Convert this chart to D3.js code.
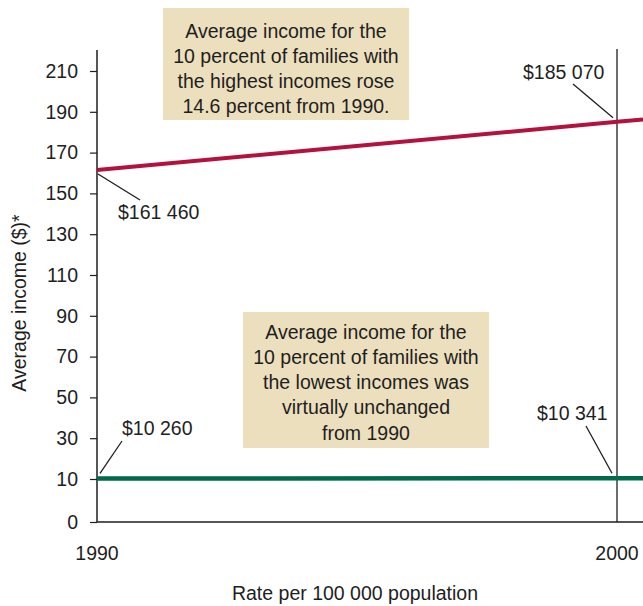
<!DOCTYPE html>
<html>
<head>
<meta charset="utf-8">
<script src="https://cdn.jsdelivr.net/npm/d3@7"></script>
<style>
  html, body { margin: 0; padding: 0; background: #fff; }
  svg { display: block; font-family: "Liberation Sans", Arial, Helvetica, sans-serif; }
</style>
</head>
<body>
<svg id="chart" width="643" height="606"></svg>
<script>
// Average family income (thousands of $), top and bottom deciles
const years = [1990, 2000];
const highest = [161.46, 185.07];
const lowest = [10.26, 10.341];
const yTicks = [0, 10, 30, 50, 70, 90, 110, 130, 150, 170, 190, 210];
const xTickLabels = ["1990", "2000"];
const highLabels = ["$161 460", "$185 070"];
const lowLabels = ["$10 260", "$10 341"];
const highNote = ["Average income for the", "10 percent of families with", "the highest incomes rose", "14.6 percent from 1990."];
const lowNote = ["Average income for the", "10 percent of families with", "the lowest incomes was", "virtually unchanged", "from 1990"];
const yTitle = "Average income ($)*";
const xTitle = "Rate per 100 000 population";

(function draw() {
  const plotLeft = 97, plotRight = 617, plotTop = 50, plotBottom = 522, plotEdge = 643;
  const ink = "#1e1e1e";
  const fs = 19.5;

  const svg = d3.select("#chart");

  const x = d3.scaleLinear().domain([1990, 2000]).range([plotLeft, plotRight]);
  // broken axis: the 0–10 segment is stretched, 10–210 is linear
  const y = d3.scaleLinear().domain([0, 10, 210]).range([plotBottom, 479, 71]);

  // annotation boxes (drawn under everything else)
  function noteBox(lines, bx, by, bw, bh, firstLine) {
    const g = svg.append("g");
    g.append("rect").attr("x", bx).attr("y", by).attr("width", bw).attr("height", bh)
      .attr("fill", "#ecdfbd");
    g.selectAll("text").data(lines).join("text")
      .attr("x", bx + bw / 2)
      .attr("y", (d, i) => firstLine + i * 25.2)
      .attr("dy", "0.35em")
      .attr("text-anchor", "middle")
      .attr("font-size", fs)
      .attr("fill", ink)
      .text(d => d);
  }
  noteBox(highNote, 163, 8, 246, 112, 31);
  noteBox(lowNote, 243, 312, 246, 136, 332);

  // y axis
  const yAxis = d3.axisLeft(y).tickValues(yTicks).tickSize(7).tickPadding(12).tickFormat(d3.format("d"));
  const gy = svg.append("g").attr("transform", `translate(${plotLeft},0)`).call(yAxis);
  gy.select(".domain").remove();
  gy.selectAll(".tick line").attr("stroke", ink).attr("stroke-width", 1.2);
  gy.selectAll(".tick text").attr("font-size", fs).attr("fill", ink)
    .attr("font-family", "'Liberation Sans', Arial, Helvetica, sans-serif");

  svg.append("line").attr("x1", plotLeft).attr("x2", plotLeft).attr("y1", plotTop).attr("y2", plotBottom)
    .attr("stroke", ink).attr("stroke-width", 1.5);
  // x baseline
  svg.append("line").attr("x1", plotLeft).attr("x2", plotEdge).attr("y1", plotBottom).attr("y2", plotBottom)
    .attr("stroke", ink).attr("stroke-width", 1.5);
  // 2000 marker line
  svg.append("line").attr("x1", x(2000)).attr("x2", x(2000)).attr("y1", plotTop - 1).attr("y2", plotBottom)
    .attr("stroke", ink).attr("stroke-width", 1.3);

  // x tick labels
  svg.selectAll(".xlab").data(years).join("text")
    .attr("class", "xlab")
    .attr("x", d => x(d))
    .attr("y", 560)
    .attr("text-anchor", "middle")
    .attr("font-size", fs)
    .attr("fill", ink)
    .text((d, i) => xTickLabels[i]);

  // series lines, continued to the right edge along the same trend
  const xEnd = x.invert(plotEdge);
  function extend(vals) {
    const slope = (vals[1] - vals[0]) / (years[1] - years[0]);
    return years.map((t, i) => [t, vals[i]]).concat([[xEnd, vals[1] + slope * (xEnd - years[1])]]);
  }
  const line = d3.line().x(d => x(d[0])).y(d => y(d[1]));
  svg.append("path").datum(extend(highest)).attr("d", line)
    .attr("fill", "none").attr("stroke", "#b3123f").attr("stroke-width", 4);
  svg.append("path").datum(extend(lowest)).attr("d", line)
    .attr("fill", "none").attr("stroke", "#006a4b").attr("stroke-width", 4.5);

  // value labels with leader lines
  const callouts = [
    { t: highLabels[0], tx: 118, ty: 212, lx: 140, ly: 200, px: x(years[0]) + 1, py: y(highest[0]) + 4 },
    { t: highLabels[1], tx: 523, ty: 72, lx: 573, ly: 84, px: x(years[1]) - 4, py: y(highest[1]) - 4 },
    { t: lowLabels[0], tx: 122, ty: 428, lx: 122, ly: 441, px: x(years[0]) + 3, py: y(lowest[0]) - 5 },
    { t: lowLabels[1], tx: 537, ty: 413, lx: 586, ly: 426, px: x(years[1]) - 5, py: y(lowest[1]) - 5 }
  ];
  svg.selectAll(".leader").data(callouts).join("line")
    .attr("class", "leader")
    .attr("x1", d => d.lx).attr("y1", d => d.ly)
    .attr("x2", d => d.px).attr("y2", d => d.py)
    .attr("stroke", ink).attr("stroke-width", 1.3);
  svg.selectAll(".vlab").data(callouts).join("text")
    .attr("class", "vlab")
    .attr("x", d => d.tx).attr("y", d => d.ty)
    .attr("dy", "0.35em")
    .attr("font-size", fs)
    .attr("fill", ink)
    .text(d => d.t);

  // axis titles
  svg.append("text")
    .attr("transform", "translate(26,303) rotate(-90)")
    .attr("text-anchor", "middle")
    .attr("font-size", fs)
    .attr("fill", ink)
    .text(yTitle);
  svg.append("text")
    .attr("x", 355).attr("y", 600)
    .attr("text-anchor", "middle")
    .attr("font-size", fs)
    .attr("fill", ink)
    .text(xTitle);
})();
</script>
</body>
</html>
